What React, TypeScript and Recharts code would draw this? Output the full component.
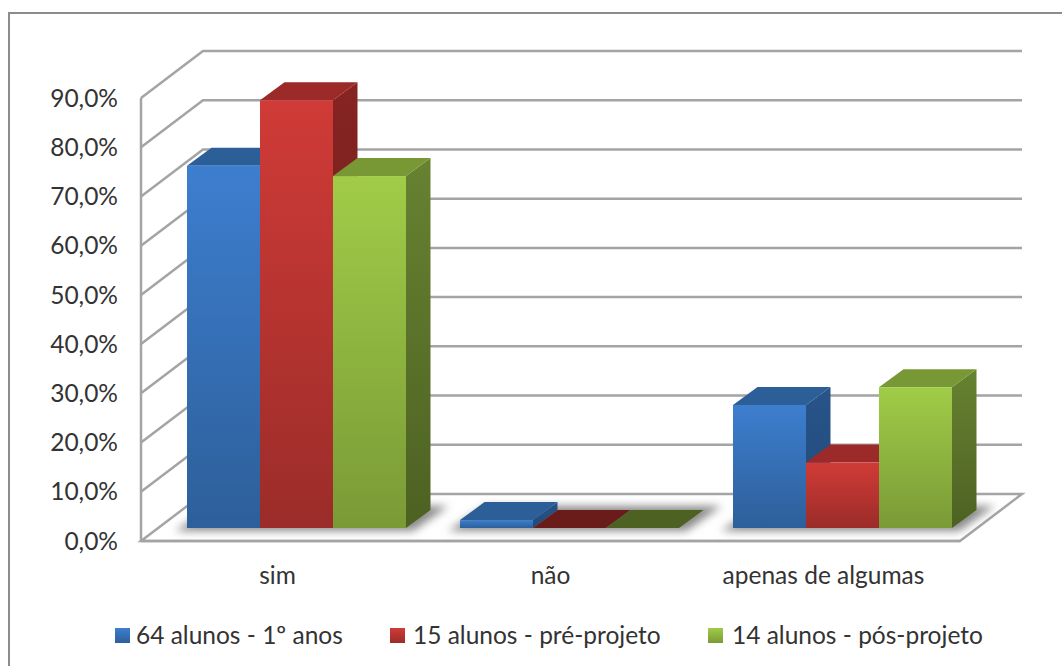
import React from "react";
import { BarChart, Bar, XAxis, YAxis, CartesianGrid, Legend } from "recharts";

const categories = ["sim", "não", "apenas de algumas"];
const alunos1 = [73.6, 1.6, 25.0];
const preProjeto = [86.9, 0, 13.3];
const posProjeto = [71.5, 0, 28.6];
const yTicks = [0, 10, 20, 30, 40, 50, 60, 70, 80, 90];
const seriesNames = ["64 alunos - 1º anos", "15 alunos - pré-projeto", "14 alunos - pós-projeto"];

const data = categories.map((name, i) => ({
  name,
  a: alunos1[i],
  b: preProjeto[i],
  c: posProjeto[i],
}));

const FONT = "Lato, Carlito, Calibri, sans-serif";
const TEXT = "#333333";
const GRID = "#a4a4a4";
const WALL_DX = 62;
const WALL_DY = 47;
const BAR_DX = 19;
const BAR_DY = 13;
const DEPTH_X = 24.5;
const DEPTH_Y = 18;

const palette = {
  a: { id: "blue", top: "#3d7ecf", bottom: "#2d5f9a", cap: "#2c5e98", sideTop: "#27548a", sideBottom: "#224a78" },
  b: { id: "red", top: "#d03b37", bottom: "#9b2c29", cap: "#9b2a28", sideTop: "#862422", sideBottom: "#6a1c1a" },
  c: { id: "green", top: "#a0cc48", bottom: "#7a9a36", cap: "#779835", sideTop: "#678231", sideBottom: "#4d6122" },
};

function makeShape(key: "a" | "b" | "c", withShadow: boolean) {
  const p = palette[key];
  return function Shape3D(props: any) {
    const { x, y, width, height } = props;
    const l = x + BAR_DX;
    const r = l + width;
    const t = y - BAR_DY;
    const b = t + height;
    const s = withShadow ? (
      <polygon
        points={`${l - 12},${b + 3} ${l + width * 3 + 7},${b + 3} ${l + width * 3 + DEPTH_X + 18},${b - DEPTH_Y - 4} ${l + DEPTH_X + 2},${b - DEPTH_Y - 4}`}
        fill="#8a8a8a"
        filter="url(#floorBlur)"
      />
    ) : null;
    return (
      <g>
        {s}
        <polygon points={`${r},${t} ${r + DEPTH_X},${t - DEPTH_Y} ${r + DEPTH_X},${b - DEPTH_Y} ${r},${b}`} fill={`url(#side-${p.id})`} />
        <polygon points={`${l},${t} ${l + DEPTH_X},${t - DEPTH_Y} ${r + DEPTH_X},${t - DEPTH_Y} ${r},${t}`} fill={height < 1 ? p.sideBottom : p.cap} />
        {height > 0 ? <rect x={l} y={t} width={width} height={height} fill={`url(#front-${p.id})`} /> : null}
      </g>
    );
  };
}

function wallLine(props: any) {
  const { x1, x2, y1, key } = props;
  const isFloor = Math.abs(y1 - 541) < 1;
  return (
    <g key={key}>
      {isFloor ? (
        <polygon
          points={`${x1},${y1} ${x2},${y1} ${x2 + WALL_DX},${y1 - WALL_DY} ${x1 + WALL_DX},${y1 - WALL_DY}`}
          fill="#fff"
          stroke={GRID}
          strokeWidth={2.5}
        />
      ) : (
        <polyline
          points={`${x1},${y1} ${x1 + WALL_DX},${y1 - WALL_DY} ${x2 + WALL_DX},${y1 - WALL_DY}`}
          fill="none"
          stroke={GRID}
          strokeWidth={2.5}
        />
      )}
    </g>
  );
}

function LegendBox() {
  const items = [
    { name: seriesNames[0], p: palette.a, left: 115, text: 136 },
    { name: seriesNames[1], p: palette.b, left: 390, text: 413 },
    { name: seriesNames[2], p: palette.c, left: 708, text: 732 },
  ];
  return (
    <div style={{ position: "relative", width: 1062, height: 40 }}>
      {items.map((it) => (
        <React.Fragment key={it.name}>
          <div
            style={{
              position: "absolute",
              left: it.left,
              top: 12,
              width: 15,
              height: 15,
              background: `linear-gradient(${it.p.top}, ${it.p.bottom})`,
            }}
          />
          <div
            style={{
              position: "absolute",
              left: it.text,
              top: 2,
              height: 34,
              lineHeight: "34px",
              whiteSpace: "nowrap",
              fontFamily: FONT,
              fontSize: 24.5,
              color: TEXT,
            }}
          >
            {it.name}
          </div>
        </React.Fragment>
      ))}
    </div>
  );
}

export default function App() {
  return (
    <div
      style={{
        position: "absolute",
        left: 0,
        top: 0,
        width: 1062,
        height: 666,
        overflow: "hidden",
        background: "#fff",
      }}
    >
      <div
        style={{
          position: "absolute",
          left: 8,
          top: 12,
          width: 1060,
          height: 670,
          border: "2.5px solid #8c8c8c",
          boxSizing: "border-box",
        }}
      />
      <BarChart
        width={1062}
        height={666}
        data={data}
        barSize={73}
        barGap={0}
        margin={{ top: 98, right: 102, bottom: 10, left: 0 }}
      >
        <defs>
          <filter id="floorBlur" x="-20%" y="-60%" width="140%" height="220%">
            <feGaussianBlur stdDeviation="4.5" />
          </filter>
          {Object.values(palette).map((p) => (
            <React.Fragment key={p.id}>
              <linearGradient id={`front-${p.id}`} x1="0" y1="0" x2="0" y2="1">
                <stop offset="0%" stopColor={p.top} />
                <stop offset="100%" stopColor={p.bottom} />
              </linearGradient>
              <linearGradient id={`side-${p.id}`} x1="0" y1="0" x2="0" y2="1">
                <stop offset="0%" stopColor={p.sideTop} />
                <stop offset="100%" stopColor={p.sideBottom} />
              </linearGradient>
            </React.Fragment>
          ))}
        </defs>
        <CartesianGrid vertical={false} horizontal={wallLine} />
        <XAxis
          dataKey="name"
          height={75}
          axisLine={{ stroke: GRID, strokeWidth: 2.5 }}
          tickLine={false}
          tickMargin={20}
          tick={{ fill: TEXT, fontFamily: FONT, fontSize: 24.5 }}
          interval={0}
        />
        <YAxis
          width={141}
          domain={[0, 90]}
          ticks={yTicks}
          interval={0}
          axisLine={{ stroke: GRID, strokeWidth: 2.5 }}
          tickLine={false}
          tickMargin={17}
          tickFormatter={(v: number) => v.toFixed(1).replace(".", ",") + "%"}
          tick={{ fill: TEXT, fontFamily: FONT, fontSize: 24.5 }}
        />
        <Legend verticalAlign="bottom" content={<LegendBox />} wrapperStyle={{ left: 0, width: 1062, height: 40 }} />
        <Bar dataKey="a" name={seriesNames[0]} isAnimationActive={false} shape={makeShape("a", true)} />
        <Bar dataKey="b" name={seriesNames[1]} isAnimationActive={false} shape={makeShape("b", false)} />
        <Bar dataKey="c" name={seriesNames[2]} isAnimationActive={false} shape={makeShape("c", false)} />
      </BarChart>
    </div>
  );
}
